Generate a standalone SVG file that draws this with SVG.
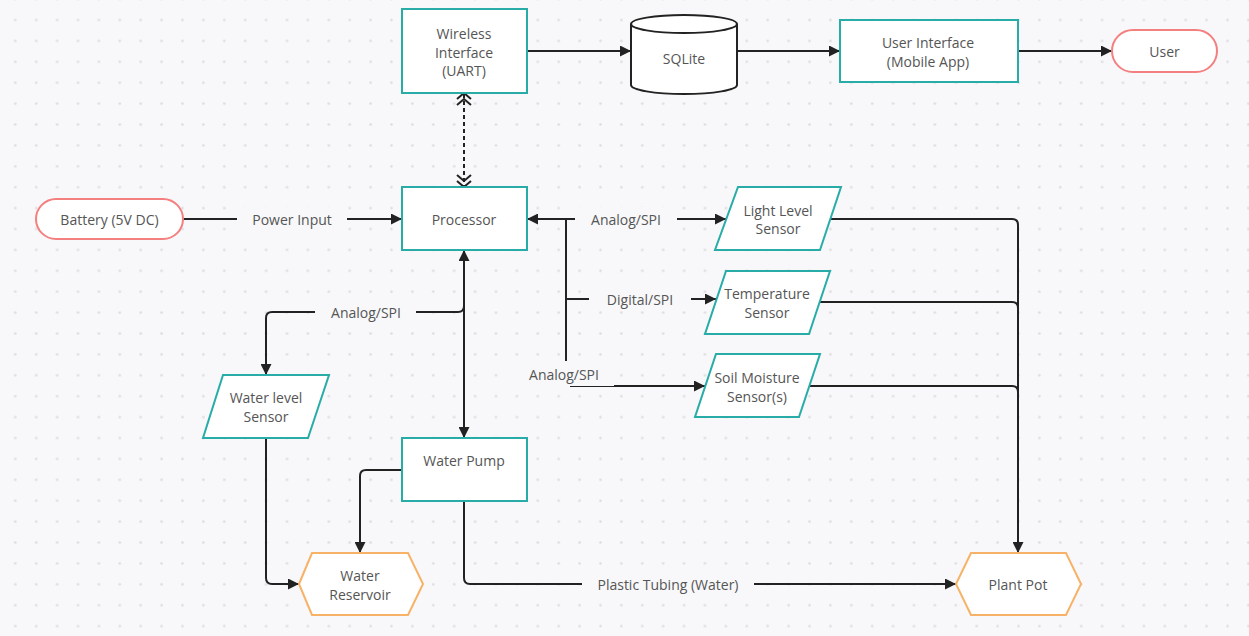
<svg xmlns="http://www.w3.org/2000/svg" width="1249" height="636" viewBox="0 0 1249 636">
<defs>
<pattern id="dots" patternUnits="userSpaceOnUse" x="4.85" y="9.55" width="20.9" height="20.9">
<circle cx="10.45" cy="10.45" r="1.3" fill="#dcdce2"/>
</pattern>
<marker id="arr" viewBox="0 0 10 10" refX="10" refY="5" markerUnits="userSpaceOnUse" markerWidth="11" markerHeight="11" orient="auto-start-reverse">
<path d="M0,0 L10,5 L0,10 z" fill="#222"/>
</marker>
</defs>
<style>
.bg{fill:#f8f8fa}
.box{fill:#fff;stroke:#27aca7;stroke-width:2}
.term{fill:#fff;stroke:#f47f7f;stroke-width:2}
.hex{fill:#fff;stroke:#f7b267;stroke-width:2}
.db{fill:#fff;stroke:#222;stroke-width:2}
.t{font-family:"Open Sans","Noto Sans",sans-serif;font-size:14px;fill:#555;text-anchor:middle;dominant-baseline:central}
.c{fill:none;stroke:#222;stroke-width:2}
.ca{fill:none;stroke:#222;stroke-width:2;marker-end:url(#arr)}
.cb{fill:none;stroke:#222;stroke-width:2;marker-end:url(#arr);marker-start:url(#arr)}
.lb{fill:#f8f8fa}
</style>
<rect class="bg" x="0" y="0" width="1249" height="636"/>
<rect x="0" y="0" width="1249" height="636" fill="url(#dots)"/>

<g id="connectors">
<path class="ca" d="M527,51 H631"/>
<path class="ca" d="M737,51 H840"/>
<path class="ca" d="M1018,51 H1112"/>
<path class="c" d="M464,94 V186" stroke-dasharray="4,3"/>
<path class="c" d="M457,99 L464,93 L471,99 M457,105 L464,99 L471,105"/>
<path class="c" d="M457,175 L464,181 L471,175 M457,181 L464,187 L471,181"/>
<path class="ca" d="M183,219 H402"/>
<rect class="lb" x="237" y="207" width="110" height="24"/>
<text class="t" x="292" y="219">Power Input</text>
<path class="cb" d="M527,219 H726"/>
<rect class="lb" x="575" y="207" width="102" height="24"/>
<text class="t" x="626" y="219">Analog/SPI</text>
<path class="c" d="M566,219 V361"/>
<path class="ca" d="M566,299 H716"/>
<rect class="lb" x="589" y="287" width="102" height="24"/>
<text class="t" x="640" y="299">Digital/SPI</text>
<path class="ca" d="M570,386 H705"/>
<rect class="lb" x="513" y="362" width="101" height="24"/>
<text class="t" x="564" y="374">Analog/SPI</text>
<path class="cb" d="M464,250 V438"/>
<path class="ca" d="M464,306 Q464,312 458,312 H272 Q266,312 266,318 V375"/>
<rect class="lb" x="315" y="300" width="101" height="24"/>
<text class="t" x="366" y="312">Analog/SPI</text>
<path class="ca" d="M266,438 V578 Q266,584 272,584 H299"/>
<path class="ca" d="M402,470 H366 Q360,470 360,476 V553"/>
<path class="ca" d="M464,501 V578 Q464,584 470,584 H956"/>
<rect class="lb" x="582" y="572" width="172" height="24"/>
<text class="t" x="668" y="584">Plastic Tubing (Water)</text>
<path class="c" d="M830,219 H1012 Q1018,219 1018,225 V540"/>
<path class="c" d="M819,302 H1012 Q1018,302 1018,308 V540"/>
<path class="c" d="M809,386 H1012 Q1018,386 1018,392 V540"/>
<path class="ca" d="M1018,540 V553"/>
</g>

<g id="wireless">
<rect class="box" x="402" y="9" width="125" height="84"/>
<text class="t" x="464" y="33">Wireless</text>
<text class="t" x="464" y="52">Interface</text>
<text class="t" x="464" y="70.5">(UART)</text>
</g>
<g id="sqlite">
<path class="db" d="M631,24 A53,9 0 0 1 737,24 V85 A53,9 0 0 1 631,85 Z"/>
<path class="db" d="M631,24 A53,9 0 0 0 737,24" fill="none"/>
<text class="t" x="684" y="58">SQLite</text>
</g>
<g id="ui">
<rect class="box" x="840" y="20" width="178" height="62"/>
<text class="t" x="928" y="42.5">User Interface</text>
<text class="t" x="928" y="61.5">(Mobile App)</text>
</g>
<g id="user">
<rect class="term" x="1112" y="30" width="105" height="42" rx="21"/>
<text class="t" x="1164.5" y="51.5">User</text>
</g>
<g id="battery">
<rect class="term" x="36" y="199" width="147" height="40" rx="20"/>
<text class="t" x="109.5" y="219">Battery (5V DC)</text>
</g>
<g id="processor">
<rect class="box" x="402" y="187" width="125" height="63"/>
<text class="t" x="464" y="219">Processor</text>
</g>
<g id="light">
<polygon class="box" points="738,187 841,187 820,250 715,250"/>
<text class="t" x="778" y="210">Light Level</text>
<text class="t" x="778" y="228.5">Sensor</text>
</g>
<g id="temperature">
<polygon class="box" points="726,271 830,271 809,334 705,334"/>
<text class="t" x="767" y="293.5">Temperature</text>
<text class="t" x="767" y="312">Sensor</text>
</g>
<g id="soil">
<polygon class="box" points="716,354 820,354 799,417 695,417"/>
<text class="t" x="757" y="377">Soil Moisture</text>
<text class="t" x="757" y="396">Sensor(s)</text>
</g>
<g id="waterlevel">
<polygon class="box" points="223,375 329,375 308,438 203,438"/>
<text class="t" x="266" y="397.5">Water level</text>
<text class="t" x="266" y="416.5">Sensor</text>
</g>
<g id="pump">
<rect class="box" x="402" y="438" width="125" height="63"/>
<text class="t" x="464" y="460.5">Water Pump</text>
</g>
<g id="reservoir">
<polygon class="hex" points="299,584 312,553 408,553 423,584 408,615 312,615"/>
<text class="t" x="360" y="575.5">Water</text>
<text class="t" x="360" y="594">Reservoir</text>
</g>
<g id="plantpot">
<polygon class="hex" points="956,584 971,553 1066,553 1081,584 1066,615 971,615"/>
<text class="t" x="1018" y="584.5">Plant Pot</text>
</g>
</svg>
